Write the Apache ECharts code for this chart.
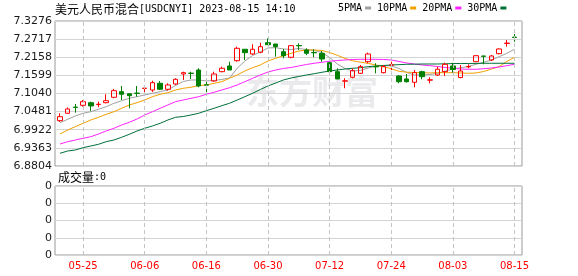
<!DOCTYPE html>
<html>
<head>
<meta charset="utf-8">
<script src="https://cdn.jsdelivr.net/npm/echarts@6/dist/echarts.min.js"></script>
<style>html,body{margin:0;padding:0;background:#fff;}#c{width:578px;height:276px;}</style>
</head>
<body>
<div id="c"></div>
<script>
const dates = ['05-22','05-23','05-24','05-25','05-26','05-29','05-30','05-31','06-01','06-02',
 '06-05','06-06','06-07','06-08','06-09','06-12','06-13','06-14','06-15','06-16',
 '06-19','06-20','06-21','06-26','06-27','06-28','06-29','06-30','07-03','07-04',
 '07-05','07-06','07-07','07-10','07-11','07-12','07-13','07-14','07-17','07-18',
 '07-19','07-20','07-21','07-24','07-25','07-26','07-27','07-28','07-31','08-01',
 '08-02','08-03','08-04','08-07','08-08','08-09','08-10','08-11','08-14','08-15'];
const labelIndex = [3,11,19,27,35,43,51,59];
const priceTicks = [6.8804,6.9363,6.9922,7.0481,7.1040,7.1599,7.2158,7.2717,7.3276];
const opens = [7.0202,7.0430,7.0620,7.0676,7.0757,7.0700,7.0757,7.0923,7.1096,7.1034,
 7.1052,7.1195,7.1148,7.1355,7.1170,7.1333,7.1642,7.1668,7.1765,7.1308,
 7.1426,7.1713,7.1889,7.2052,7.2404,7.2259,7.2311,7.2607,7.2567,7.2330,
 7.2157,7.2520,7.2382,7.2305,7.2280,7.1990,7.1713,7.1421,7.1540,7.1663,
 7.2021,7.1872,7.1682,7.1914,7.1580,7.1488,7.1386,7.1713,7.1452,7.1611,
 7.1713,7.1889,7.1534,7.1862,7.2021,7.2196,7.2074,7.2268,7.2584,7.2779];
const closes = [7.0325,7.0562,7.0610,7.0788,7.0655,7.0710,7.0818,7.1127,7.1016,7.0973,
 7.1042,7.1205,7.1374,7.1170,7.1303,7.1478,7.1682,7.1658,7.1272,7.1298,
 7.1642,7.1818,7.1765,7.2434,7.2299,7.2404,7.2484,7.2545,7.2484,7.2206,
 7.2515,7.2510,7.2280,7.2295,7.2104,7.1713,7.1488,7.1431,7.1744,7.1867,
 7.2259,7.1862,7.1867,7.1924,7.1404,7.1404,7.1682,7.1559,7.1462,7.1787,
 7.1941,7.1781,7.1734,7.1872,7.2206,7.2186,7.2197,7.2413,7.2594,7.2769];
const lows = [7.0162,7.0410,7.0448,7.0635,7.0501,7.0615,7.0738,7.0895,7.0840,7.0584,
 7.0942,7.1047,7.1087,7.1148,7.1127,7.1303,7.1457,7.1488,7.1232,7.1065,
 7.1404,7.1695,7.1765,7.2021,7.2074,7.2228,7.2280,7.2536,7.2175,7.2126,
 7.2126,7.2382,7.2228,7.2157,7.2021,7.1663,7.1488,7.1201,7.1509,7.1642,
 7.1972,7.1663,7.1663,7.1765,7.1355,7.1374,7.1232,7.1478,7.1355,7.1580,
 7.1580,7.1682,7.1509,7.1818,7.2010,7.1941,7.2043,7.2249,7.2484,7.2638];
const highs = [7.0430,7.0610,7.0717,7.0840,7.0788,7.0788,7.1016,7.1180,7.1272,7.1040,
 7.1272,7.1272,7.1435,7.1426,7.1355,7.1509,7.1713,7.1713,7.1818,7.1404,
 7.1713,7.1867,7.2021,7.2484,7.2404,7.2558,7.2607,7.2743,7.2567,7.2413,
 7.2536,7.2589,7.2434,7.2404,7.2351,7.2021,7.1818,7.1509,7.1818,7.1919,
 7.2299,7.1972,7.1919,7.2021,7.1611,7.1642,7.1765,7.1744,7.1540,7.1867,
 7.1990,7.1990,7.1919,7.1941,7.2220,7.2200,7.2228,7.2434,7.2690,7.2875];
const ma5 = [7.0140,7.0245,7.0347,7.0430,7.0479,7.0553,7.0633,7.0738,7.0818,7.0892,
 7.0942,7.0994,7.1047,7.1096,7.1148,7.1287,7.1411,7.1457,7.1457,7.1426,
 7.1441,7.1472,7.1519,7.1818,7.2043,7.2212,7.2320,7.2444,7.2453,7.2413,
 7.2397,7.2428,7.2397,7.2367,7.2305,7.2151,7.1950,7.1812,7.1734,7.1750,
 7.1827,7.1879,7.1904,7.1889,7.1812,7.1688,7.1611,7.1611,7.1626,7.1657,
 7.1734,7.1796,7.1836,7.1873,7.1941,7.2003,7.2074,7.2175,7.2280,7.2404];
const ma10 = [6.9791,6.9915,7.0017,7.0121,7.0223,7.0307,7.0399,7.0479,7.0584,7.0686,
 7.0757,7.0840,7.0942,7.1016,7.1065,7.1148,7.1201,7.1232,7.1281,7.1303,
 7.1355,7.1404,7.1509,7.1611,7.1734,7.1836,7.1919,7.2043,7.2126,7.2206,
 7.2280,7.2351,7.2382,7.2382,7.2367,7.2305,7.2219,7.2123,7.2049,7.2006,
 7.1969,7.1919,7.1870,7.1802,7.1725,7.1697,7.1688,7.1682,7.1673,7.1682,
 7.1682,7.1682,7.1673,7.1663,7.1673,7.1719,7.1796,7.1867,7.2027,7.2157];
const ma20 = [6.9483,6.9554,6.9606,6.9659,6.9708,6.9791,6.9884,6.9967,7.0069,7.0152,
 7.0254,7.0377,7.0479,7.0584,7.0686,7.0788,7.0840,7.0892,7.0942,7.1016,
 7.1078,7.1148,7.1219,7.1303,7.1404,7.1509,7.1611,7.1704,7.1765,7.1812,
 7.1842,7.1889,7.1935,7.1972,7.2003,7.2034,7.2058,7.2074,7.2089,7.2095,
 7.2095,7.2095,7.2089,7.2074,7.2027,7.1981,7.1950,7.1919,7.1898,7.1873,
 7.1842,7.1818,7.1796,7.1787,7.1787,7.1805,7.1827,7.1858,7.1898,7.1941];
const ma30 = [6.9196,6.9267,6.9298,6.9369,6.9421,6.9474,6.9554,6.9606,6.9690,6.9782,
 6.9884,6.9967,7.0038,7.0121,7.0223,7.0307,7.0331,7.0377,7.0430,7.0510,
 7.0584,7.0664,7.0738,7.0840,7.0942,7.1047,7.1164,7.1272,7.1364,7.1457,
 7.1519,7.1565,7.1611,7.1651,7.1694,7.1734,7.1765,7.1796,7.1818,7.1836,
 7.1867,7.1889,7.1904,7.1919,7.1929,7.1941,7.1944,7.1950,7.1950,7.1950,
 7.1956,7.1963,7.1966,7.1966,7.1969,7.1972,7.1972,7.1972,7.1972,7.1972];
const volumes = dates.map(() => 0);

const monoFont = 'DejaVu Sans Mono';
const cjkFont = 'Noto Sans CJK SC';
const xMin = -0.65, xMax = 59.97;

const dashLines = {
  silent: true, symbol: ['none','none'], label: {show: false}, animation: false,
  lineStyle: {color: '#c4c4c4', type: [4,3], width: 1},
  emphasis: {disabled: true},
  data: labelIndex.map(i => ({xAxis: i}))
};

const maSeries = [['5PMA', ma5, '#a0a0a0'], ['10PMA', ma10, '#f2a000'], ['20PMA', ma20, '#ff22ff'], ['30PMA', ma30, '#00703a']]
  .map(([name, arr, col]) => ({
    name, type: 'line', xAxisIndex: 0, yAxisIndex: 0, color: col,
    data: arr.map((v, i) => [i, v]), showSymbol: false, symbol: 'none',
    lineStyle: {width: 1, color: col}, itemStyle: {color: col}, z: 2, silent: true
  }));

const richText = {
  c: {fontFamily: cjkFont, fontSize: 12, fontWeight: 'normal', color: '#000', lineHeight: 14},
  a: {fontFamily: monoFont, fontSize: 10, fontWeight: 'normal', color: '#000', lineHeight: 14}
};

const chart = echarts.init(document.getElementById('c'), null, {renderer: 'canvas'});
chart.setOption({
  animation: false,
  backgroundColor: '#fff',
  title: [
    {left: 55, top: 2, padding: 0,
     text: '{c|美元人民币混合}{a|[USDCNYI] 2023-08-15 14:10}',
     textStyle: {fontWeight: 'normal', rich: richText}},
    {left: 58, top: 170, padding: 0,
     text: '{c|成交量}{a|:0}',
     textStyle: {fontWeight: 'normal', rich: richText}}
  ],
  legend: {
    left: 338, top: 3, padding: 0, align: 'right', icon: 'rect',
    itemWidth: 6, itemHeight: 3, itemGap: 6,
    textStyle: {fontFamily: monoFont, fontSize: 10, fontWeight: 'normal', color: '#000', padding: [0, -2, 0, 0]},
    data: ['5PMA','10PMA','20PMA','30PMA'], selectedMode: false
  },
  graphic: [{
    type: 'text', left: 246, top: 75, z: 0, silent: true,
    style: {text: '东方财富', fontFamily: cjkFont, fontWeight: 'bold', fontSize: 33,
            fill: 'rgba(190,190,200,0.32)'}
  }],
  grid: [
    {left: 55, right: 56, top: 21, height: 145, show: true, borderColor: '#999', borderWidth: 1, backgroundColor: 'transparent'},
    {left: 55, right: 56, top: 186, height: 69, show: true, borderColor: '#999', borderWidth: 1, backgroundColor: 'transparent'}
  ],
  xAxis: [
    {type: 'value', gridIndex: 0, min: xMin, max: xMax,
     axisLine: {show: false}, axisTick: {show: false}, axisLabel: {show: false}, splitLine: {show: false}},
    {type: 'value', gridIndex: 1, min: xMin, max: xMax,
     axisLine: {show: false}, axisTick: {show: false}, splitLine: {show: false},
     axisLabel: {customValues: labelIndex, formatter: v => dates[Math.round(v)] || '',
                 color: '#ff0000', fontFamily: 'DejaVu Sans', fontSize: 10, margin: 6}}
  ],
  yAxis: [
    {type: 'value', gridIndex: 0, min: priceTicks[0], max: priceTicks[priceTicks.length - 1],
     interval: priceTicks[1] - priceTicks[0],
     axisLine: {show: false}, axisTick: {show: false},
     splitLine: {lineStyle: {color: '#d4d4d4', width: 1}},
     axisLabel: {formatter: v => v.toFixed(4), color: '#1a1a1a', fontFamily: 'DejaVu Sans', fontSize: 11, margin: 3}},
    {type: 'value', gridIndex: 1, min: 0, max: 4, interval: 1,
     axisLine: {show: false}, axisTick: {show: false},
     splitLine: {lineStyle: {color: '#d4d4d4', width: 1}},
     axisLabel: {formatter: () => '0', color: '#1a1a1a', fontFamily: 'DejaVu Sans', fontSize: 11, margin: 3}}
  ],
  series: [
    {name: 'K', type: 'candlestick', xAxisIndex: 0, yAxisIndex: 0, barWidth: 5, z: 3, silent: true,
     data: dates.map((d, i) => [i, opens[i], closes[i], lows[i], highs[i]]),
     itemStyle: {color: 'rgba(255,255,255,0)', color0: '#008000', borderColor: '#ff0000', borderColor0: '#008000', borderWidth: 1},
     markLine: dashLines},
    ...maSeries,
    {name: 'VOL', type: 'bar', xAxisIndex: 1, yAxisIndex: 1, barWidth: 5, silent: true,
     data: volumes.map((v, i) => [i, v]), itemStyle: {color: '#008000'},
     markLine: dashLines}
  ]
});
</script>
</body>
</html>
